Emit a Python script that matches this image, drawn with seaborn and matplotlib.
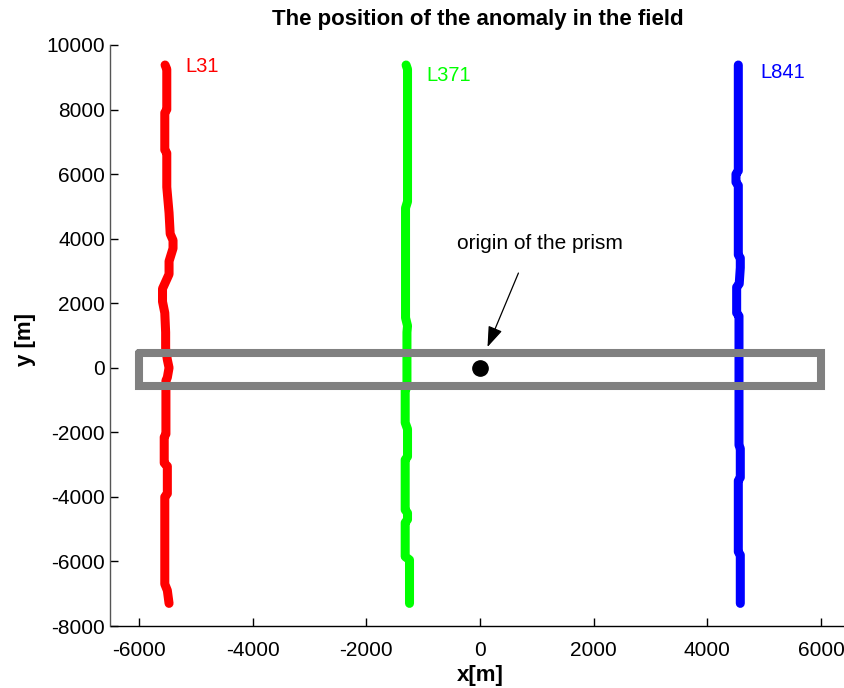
import numpy as np
import pandas as pd
import matplotlib
matplotlib.use("Agg")
import matplotlib.pyplot as plt
import seaborn as sns

# ---- data ----
line_names = ["L31", "L371", "L841"]
line_colors = ["#ff0000", "#00ff00", "#0000ff"]

l31_y = [9380, 9250, 8000, 7900, 6750, 6650, 5600, 4800, 4150, 3950, 3700, 3300, 2900,
         2450, 2050, 1700, 1100, 600, 250, 0, -300, -400, -2050, -2150, -2950, -3050,
         -3900, -4000, -6700, -6900, -7300]
l31_x = [-5540, -5510, -5510, -5545, -5545, -5510, -5510, -5470, -5450, -5400, -5400, -5470,
         -5470, -5585, -5585, -5545, -5530, -5530, -5500, -5470, -5500, -5525, -5525, -5555,
         -5555, -5500, -5500, -5545, -5545, -5500, -5470]

l371_y = [9380, 9250, 5150, 4950, 1550, 1300, 1100, -600, -700, -1700, -1900, -2750, -2850,
          -4400, -4500, -4700, -4800, -5850, -5950, -7300]
l371_x = [-1300, -1275, -1275, -1310, -1310, -1275, -1285, -1285, -1316, -1316, -1275, -1275,
          -1316, -1316, -1275, -1275, -1316, -1316, -1240, -1240]

l841_y = [9380, 6100, 6000, 5750, 5650, 3500, 3400, 3100, 2600, 2500, 1700, 1600, -2400,
          -2500, -3400, -3500, -5700, -5800, -7300]
l841_x = [4544, 4544, 4503, 4503, 4544, 4544, 4579, 4579, 4560, 4515, 4515, 4556, 4556,
          4579, 4579, 4544, 4544, 4579, 4579]

# line label anchor (x, y)
label_pos = [(-5180, 9340), (-940, 9065), (4930, 9160)]

# prism outline and points
prism_x = [-6000, 6000, 6000, -6000, -6000]
prism_y = [460, 460, -560, -560, 460]
edge_pts_x = [-6000, 6000]
edge_pts_y = [0, 0]
origin_x = [0]
origin_y = [0]

x_ticks = [-6000, -4000, -2000, 0, 2000, 4000, 6000]
y_ticks = [-8000, -6000, -4000, -2000, 0, 2000, 4000, 6000, 8000, 10000]

# ---- build frame ----
frames = []
for name, xs, ys in zip(line_names, [l31_x, l371_x, l841_x], [l31_y, l371_y, l841_y]):
    frames.append(pd.DataFrame({"x": xs, "y": ys, "line": name}))
df = pd.concat(frames, ignore_index=True)

sns.set_style("white")
plt.rcParams["font.family"] = ["Liberation Sans", "DejaVu Sans"]
plt.rcParams["text.color"] = "black"
plt.rcParams["axes.labelcolor"] = "black"

W, H = 845, 688
fig = plt.figure(figsize=(W / 100, H / 100), dpi=100)
ax_left, ax_right, ax_bottom, ax_top = 110.5, 849.5, 626, 45
ax = fig.add_axes([ax_left / W, 1 - ax_bottom / H, (ax_right - ax_left) / W, (ax_bottom - ax_top) / H])

sns.lineplot(data=df, x="x", y="y", hue="line", palette=dict(zip(line_names, line_colors)),
             sort=False, estimator=None, units="line", legend=False, ax=ax,
             linewidth=6.5, solid_capstyle="round", solid_joinstyle="round", zorder=2)

# small dark markers at the prism ends (mostly hidden)
ax.plot(edge_pts_x, edge_pts_y, "o", color="#333333", markersize=4, zorder=2.5)
# prism outline
ax.plot(prism_x, prism_y, color="#808080", linewidth=5.8, solid_joinstyle="miter", zorder=3)
# origin
ax.plot(origin_x, origin_y, "o", color="black", markersize=11, zorder=4)

for name, col, (lx, ly) in zip(line_names, line_colors, label_pos):
    ax.text(lx, ly, name, color=col, fontsize=14.5, ha="left", va="center")

ax.annotate("", xy=(132, 644), xytext=(676, 2935),
            arrowprops=dict(arrowstyle="-|>,head_length=0.7,head_width=0.25", color="black",
                            lw=0.9, shrinkA=0, shrinkB=0, mutation_scale=18), zorder=5)
ax.text(1063, 3864, "origin of the prism", fontsize=15, ha="center", va="center", color="black")

ax.set_xlim(-6500, 6500)
ax.set_ylim(-8000, 10000)
ax.set_xticks(x_ticks)
ax.set_yticks(y_ticks)
ax.set_xticklabels([str(v) for v in x_ticks])
ax.set_yticklabels([str(v) for v in y_ticks])
ax.tick_params(axis="both", direction="in", length=6, width=1, color="black",
               labelsize=15, labelcolor="black", bottom=True, left=True)
ax.tick_params(axis="x", pad=11)
ax.tick_params(axis="y", pad=4)

for s in ["top", "right"]:
    ax.spines[s].set_visible(False)
ax.spines["left"].set_color("#555555")
ax.spines["bottom"].set_color("black")
ax.spines["left"].set_linewidth(1.0)
ax.spines["bottom"].set_linewidth(1.0)
ax.grid(False)

ax.set_xlabel("x[m]", fontsize=16, fontweight="bold", color="black")
ax.set_ylabel("y [m]", fontsize=16, fontweight="bold", color="black")
ax.xaxis.label.set_va("center")
ax.yaxis.label.set_va("center")
ax.xaxis.set_label_coords((480 - ax_left) / (ax_right - ax_left), (ax_bottom - 676) / (ax_bottom - ax_top))
ax.yaxis.set_label_coords((25 - ax_left) / (ax_right - ax_left), (ax_bottom - 340) / (ax_bottom - ax_top))

fig.text(478 / W, 1 - 19 / H, "The position of the anomaly in the field", fontsize=16,
         fontweight="bold", ha="center", va="center", color="black")

fig.savefig("out.png", dpi=100)
